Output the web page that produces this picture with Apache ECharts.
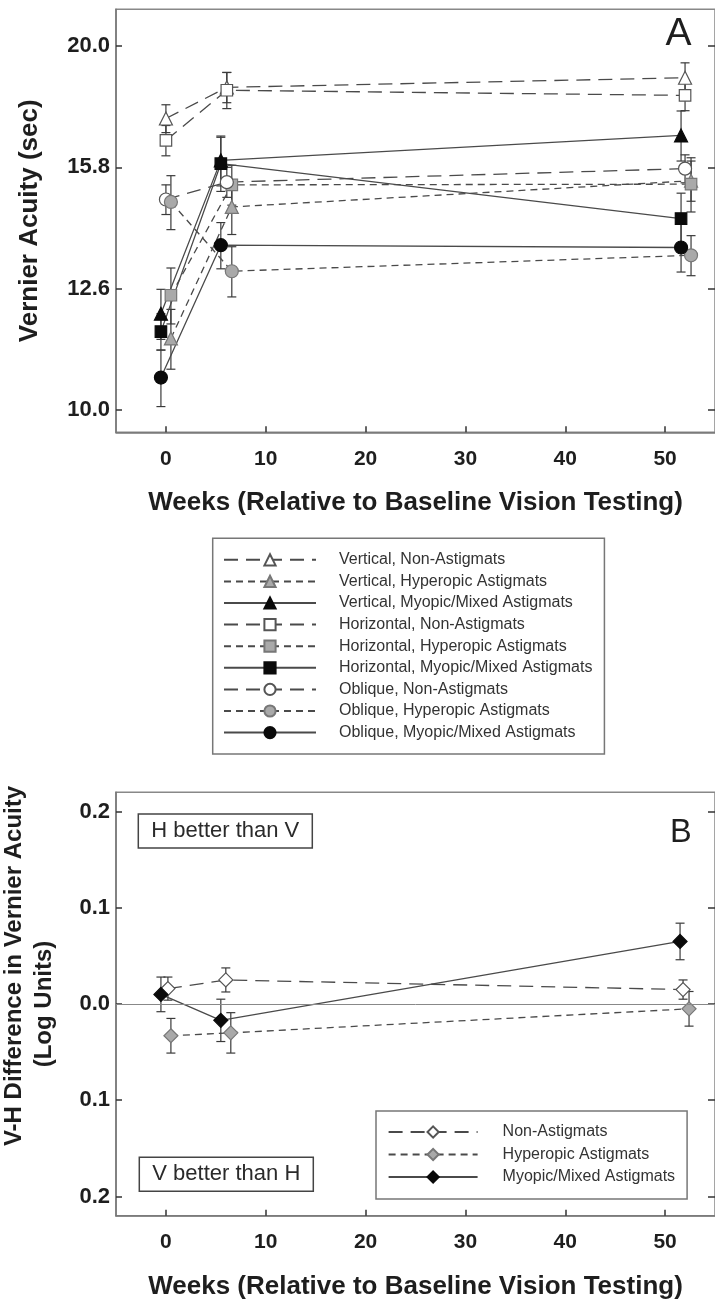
<!DOCTYPE html>
<html><head><meta charset="utf-8">
<script src="https://cdn.jsdelivr.net/npm/echarts@6/dist/echarts.min.js"></script>
<style>html,body{margin:0;padding:0;background:#fff}#c{width:715px;height:1302px}</style>
</head><body><div id="c"></div>
<script>
// ---------- Panel A : Vernier acuity (sec) ----------
const weeksNonA = [0, 6.1, 52.0];
const weeksHypA = [0.5, 6.6, 52.6];
const weeksMyoA = [-0.5, 5.5, 51.6];

const vertNon = [17.39, 18.45, 18.79];  const vertNonErr = [0.46, 0.53, 0.54];
const vertHyp = [11.45, 14.70, 15.45];  const vertHypErr = [0.65, 0.75, 0.59];
const vertMyo = [12.00, 16.06, 16.84];  const vertMyoErr = [0.57, 0.76, 0.80];
const horNon  = [16.68, 18.35, 18.17];  const horNonErr  = [0.48, 0.63, 0.52];
const horHyp  = [12.43, 15.33, 15.35];  const horHypErr  = [0.66, 0.58, 0.79];
const horMyo  = [11.60, 15.96, 14.38];  const horMyoErr  = [0.40, 0.82, 0.71];
const oblNon  = [14.91, 15.41, 15.81];  const oblNonErr  = [0.42, 0.44, 0.42];
const oblHyp  = [14.84, 13.01, 13.41];  const oblHypErr  = [0.76, 0.62, 0.51];
const oblMyo  = [10.63, 13.67, 13.61];  const oblMyoErr  = [0.57, 0.60, 0.62];

const yTickExpA = [1.0, 1.1, 1.2, 1.3];          // log10 of tick values (10.0, 12.6, 15.8, 20.0)
const xTicks = [0, 10, 20, 30, 40, 50];

// ---------- Panel B : V-H difference (log units) ----------
const weeksNonB = [0.2, 6.0, 51.8];
const weeksHypB = [0.5, 6.5, 52.4];
const weeksMyoB = [-0.5, 5.5, 51.5];
const diffNon = [0.016, 0.025, 0.015];  const diffNonErr = [0.012, 0.0125, 0.010];
const diffHyp = [-0.033, -0.030, -0.005]; const diffHypErr = [0.018, 0.021, 0.018];
const diffMyo = [0.010, -0.017, 0.065]; const diffMyoErr = [0.018, 0.022, 0.019];
const yTicksB = [-0.2, -0.1, 0, 0.1, 0.2];

const FF = "'Liberation Sans', Arial, Helvetica, sans-serif";
const LONG = [14, 8], SHORT = [7, 5];
const WHITE = {fill:'#ffffff', border:'#555555'};
const GRAY  = {fill:'#a9a9a9', border:'#777777'};
const BLACK = {fill:'#0a0a0a', border:'#0a0a0a'};

const seriesA = [
  ['Vertical, Non-Astigmats', weeksNonA, vertNon, vertNonErr, 'triangle', WHITE, LONG],
  ['Vertical, Hyperopic Astigmats', weeksHypA, vertHyp, vertHypErr, 'triangle', GRAY, SHORT],
  ['Vertical, Myopic/Mixed Astigmats', weeksMyoA, vertMyo, vertMyoErr, 'triangle', BLACK, 'solid'],
  ['Horizontal, Non-Astigmats', weeksNonA, horNon, horNonErr, 'rect', WHITE, LONG],
  ['Horizontal, Hyperopic Astigmats', weeksHypA, horHyp, horHypErr, 'rect', GRAY, SHORT],
  ['Horizontal, Myopic/Mixed Astigmats', weeksMyoA, horMyo, horMyoErr, 'rect', BLACK, 'solid'],
  ['Oblique, Non-Astigmats', weeksNonA, oblNon, oblNonErr, 'circle', WHITE, LONG],
  ['Oblique, Hyperopic Astigmats', weeksHypA, oblHyp, oblHypErr, 'circle', GRAY, SHORT],
  ['Oblique, Myopic/Mixed Astigmats', weeksMyoA, oblMyo, oblMyoErr, 'circle', BLACK, 'solid']
];
const seriesB = [
  ['Non-Astigmats', weeksNonB, diffNon, diffNonErr, 'diamond', WHITE, LONG],
  ['Hyperopic Astigmats', weeksHypB, diffHyp, diffHypErr, 'diamond', GRAY, SHORT],
  ['Myopic/Mixed Astigmats', weeksMyoB, diffMyo, diffMyoErr, 'diamond', BLACK, 'solid']
];

function symSize(s){ return s==='rect'?11.5:(s==='diamond'?14:13); }

function lineSeries(def, xi, yi){
  const [name, xs, ys, , sym, col, dash] = def;
  return {
    type:'line', name, xAxisIndex:xi, yAxisIndex:yi, z:3,
    data: xs.map((x,i)=>[x, ys[i]]),
    symbol: sym, symbolSize: symSize(sym), showAllSymbol:true,
    itemStyle:{color:col.fill, borderColor:col.border, borderWidth:1.2},
    lineStyle:{color:'#4a4a4a', width:1.3, type:dash},
    emphasis:{disabled:true}, animation:false
  };
}
function errSeries(def, xi, yi){
  const [name, xs, ys, es] = def;
  return {
    type:'custom', name: name+' SE', xAxisIndex:xi, yAxisIndex:yi, z:1, silent:true, animation:false,
    data: xs.map((x,i)=>[x, ys[i]-es[i], ys[i]+es[i]]),
    encode:{x:0, y:[1,2]},
    renderItem(params, api){
      const xv = api.value(0);
      const lo = api.coord([xv, api.value(1)]);
      const hi = api.coord([xv, api.value(2)]);
      const c = 4.5, st = {stroke:'#3a3a3a', lineWidth:1.2};
      return {type:'group', children:[
        {type:'line', shape:{x1:lo[0],y1:lo[1],x2:hi[0],y2:hi[1]}, style:st},
        {type:'line', shape:{x1:lo[0]-c,y1:lo[1],x2:lo[0]+c,y2:lo[1]}, style:st},
        {type:'line', shape:{x1:hi[0]-c,y1:hi[1],x2:hi[0]+c,y2:hi[1]}, style:st}
      ]};
    }
  };
}

const axisLine = {show:true, onZero:false, lineStyle:{color:'#777', width:1.5}};
const tickStyle = {inside:true, length:6, lineStyle:{color:'#333', width:1.5}};
const boldLabel = {fontFamily:FF, fontWeight:'bold', color:'#1e1e1e'};

function xAxis(gi){
  return {type:'value', gridIndex:gi, min:-5, max:55,
    axisLine, splitLine:{show:false},
    axisTick:Object.assign({customValues:xTicks}, tickStyle),
    axisLabel:Object.assign({customValues:xTicks, margin:16, fontSize:21}, boldLabel),
    name:'Weeks (Relative to Baseline Vision Testing)', nameLocation:'middle', nameGap:58,
    nameTextStyle:{fontFamily:FF, fontWeight:'bold', fontSize:26, color:'#1e1e1e'}};
}
const yTickValsA = yTickExpA.map(e=>Math.pow(10,e));

const series = [];
seriesA.forEach(d=>series.push(errSeries(d,0,0)));
seriesA.forEach(d=>series.push(lineSeries(d,0,0)));
seriesB.forEach(d=>series.push(errSeries(d,1,1)));
seriesB.forEach((d,i)=>{
  const s = lineSeries(d,1,1);
  if(i===0){ s.markLine = {silent:true, symbol:'none', label:{show:false}, animation:false,
      lineStyle:{color:'#888', width:1, type:'solid'}, data:[{yAxis:0}]}; }
  series.push(s);
});

const legendCommon = {orient:'vertical', selectedMode:false, borderColor:'#777', borderWidth:1.5,
  backgroundColor:'#fff', itemHeight:14};

const option = {
  animation:false,
  backgroundColor:'#fff',
  grid:[
    {left:116, top:9.3, width:606, height:423, show:true, borderColor:'#888', borderWidth:1.5, containLabel:false},
    {left:116, top:792.3, width:606, height:423.4, show:true, borderColor:'#888', borderWidth:1.5, containLabel:false}
  ],
  xAxis:[xAxis(0), xAxis(1)],
  yAxis:[
    {type:'log', logBase:10, gridIndex:0, min:9.58, max:21.4, axisLine, splitLine:{show:false},
     axisTick:Object.assign({customValues:yTickValsA}, tickStyle),
     axisLabel:Object.assign({customValues:yTickValsA, margin:6, fontSize:22, formatter:v=>Number(v).toFixed(1)}, boldLabel),
     name:'Vernier Acuity (sec)', nameLocation:'middle', nameGap:73,
     nameTextStyle:{fontFamily:FF, fontWeight:'bold', fontSize:26, color:'#1e1e1e'}},
    {type:'value', gridIndex:1, min:-0.22, max:0.22, axisLine, splitLine:{show:false},
     axisTick:Object.assign({customValues:yTicksB}, tickStyle),
     axisLabel:Object.assign({customValues:yTicksB, margin:6, fontSize:22, formatter:v=>Math.abs(v).toFixed(1)}, boldLabel),
     name:'(Log Units)', nameLocation:'middle', nameGap:60,
     nameTextStyle:{fontFamily:FF, fontWeight:'bold', fontSize:24, color:'#1e1e1e'}},
    {type:'log', logBase:10, gridIndex:0, min:9.58, max:21.4, position:'right', axisLine:{show:false, onZero:false},
     splitLine:{show:false}, axisLabel:{show:false},
     axisTick:{customValues:yTickValsA, inside:true, length:7, lineStyle:{color:'#333', width:1.5}}},
    {type:'value', gridIndex:1, min:-0.22, max:0.22, position:'right', axisLine:{show:false, onZero:false},
     splitLine:{show:false}, axisLabel:{show:false},
     axisTick:{customValues:yTicksB, inside:true, length:7, lineStyle:{color:'#333', width:1.5}}}
  ],
  legend:[
    Object.assign({}, legendCommon, {
      data: seriesA.map(d=>d[0]), left:212.7, top:538.3, itemWidth:92, itemGap:5.6,
      padding:[13.5, 12, 13.5, 10.3],
      textStyle:{fontFamily:FF, fontSize:16, color:'#333', lineHeight:14, padding:[0,0,0,18]}
    }),
    Object.assign({}, legendCommon, {
      data: seriesB.map(d=>d[0]), left:376, top:1111, itemWidth:89, itemGap:6.5,
      padding:[13, 12, 14, 11.6],
      textStyle:{fontFamily:FF, fontSize:16, color:'#333', lineHeight:14, padding:[0,0,0,20]}
    })
  ],
  title:[
    {text:'A', left:665.5, top:14.4, padding:0, textStyle:{fontFamily:FF, fontSize:39, fontWeight:'normal', color:'#1e1e1e'}},
    {text:'B', left:670, top:817, padding:0, textStyle:{fontFamily:FF, fontSize:32.5, fontWeight:'normal', color:'#1e1e1e'}},
    {text:'H better than V', left:138.3, top:814, padding:[5,13,5,13], borderColor:'#444', borderWidth:1.5,
     textStyle:{fontFamily:FF, fontSize:22, lineHeight:24, fontWeight:'normal', color:'#2a2a2a'}},
    {text:'V better than H', left:139.3, top:1157.3, padding:[5,13,5,13], borderColor:'#444', borderWidth:1.5,
     textStyle:{fontFamily:FF, fontSize:22, lineHeight:24, fontWeight:'normal', color:'#2a2a2a'}}
  ],
  graphic:[
    {type:'text', x:14, y:966, rotation:Math.PI/2, silent:true,
     style:{text:'V-H Difference in Vernier Acuity', font:"bold 24px 'Liberation Sans', Arial, sans-serif",
            fill:'#1e1e1e', align:'center', verticalAlign:'middle'}}
  ],
  series
};

const chart = echarts.init(document.getElementById('c'), null, {renderer:'canvas'});
chart.setOption(option);
</script>
</body></html>
